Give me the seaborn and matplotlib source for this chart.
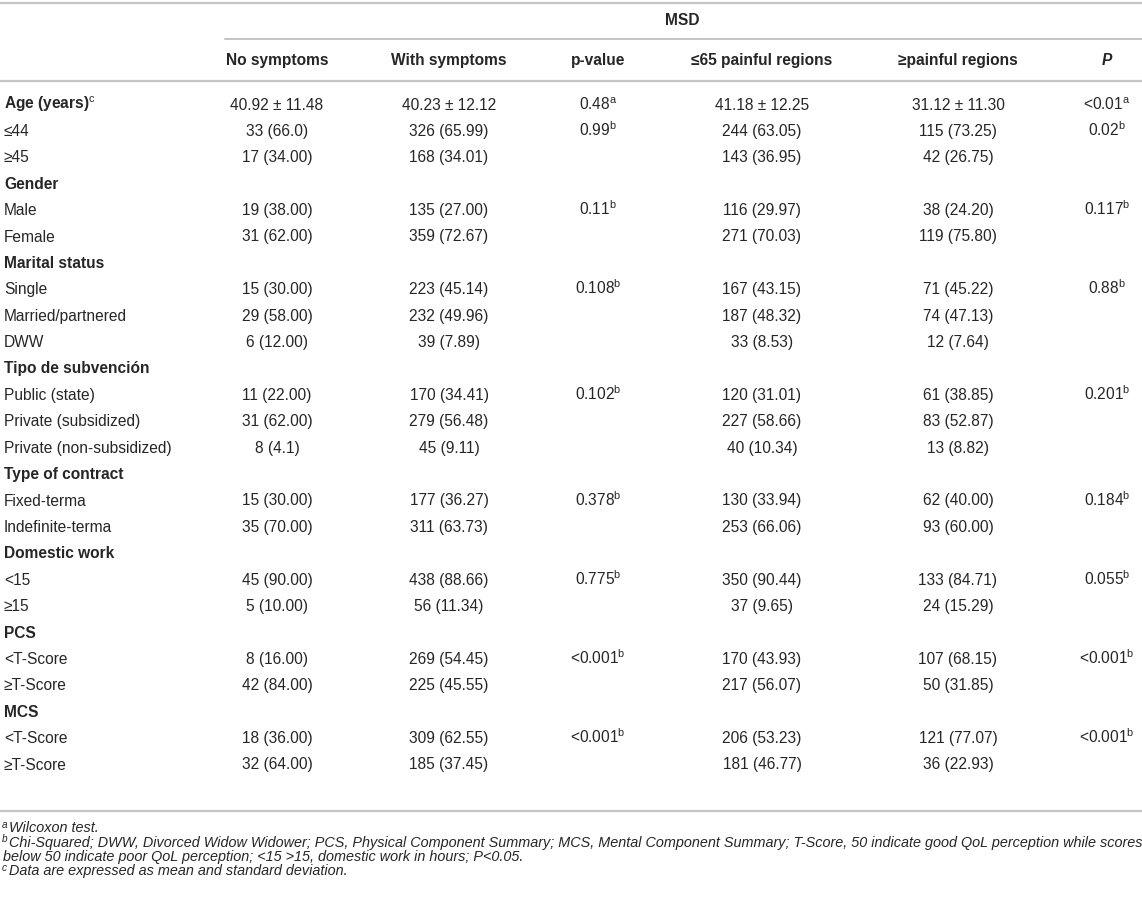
import matplotlib
matplotlib.use("Agg")
import matplotlib.pyplot as plt
import seaborn as sns

sns.set_theme(style="white")
plt.rcParams['font.family'] = ['Liberation Sans', 'DejaVu Sans']
plt.rcParams['mathtext.fontset'] = 'custom'
plt.rcParams['mathtext.rm'] = 'Liberation Sans'
plt.rcParams['mathtext.it'] = 'Liberation Sans:italic'
plt.rcParams['mathtext.bf'] = 'Liberation Sans:bold'

# table data
col_headers = ["No symptoms", "With symptoms", "p-value",
               "≤65 painful regions", "≥painful regions", "P"]

row_labels = ["Age (years)$^{\\mathrm{c}}$", "≤44", "≥45",
              "Gender", "Male", "Female",
              "Marital status", "Single", "Married/partnered", "DWW",
              "Tipo de subvención", "Public (state)", "Private (subsidized)",
              "Private (non-subsidized)",
              "Type of contract", "Fixed-terma", "Indefinite-terma",
              "Domestic work", "<15", "≥15",
              "PCS", "<T-Score", "≥T-Score",
              "MCS", "<T-Score", "≥T-Score"]

group_rows = [0, 3, 6, 10, 14, 17, 20, 23]

no_symptoms = ["40.92 ± 11.48", "33 (66.0)", "17 (34.00)",
               "", "19 (38.00)", "31 (62.00)",
               "", "15 (30.00)", "29 (58.00)", "6 (12.00)",
               "", "11 (22.00)", "31 (62.00)", "8 (4.1)",
               "", "15 (30.00)", "35 (70.00)",
               "", "45 (90.00)", "5 (10.00)",
               "", "8 (16.00)", "42 (84.00)",
               "", "18 (36.00)", "32 (64.00)"]

with_symptoms = ["40.23 ± 12.12", "326 (65.99)", "168 (34.01)",
                 "", "135 (27.00)", "359 (72.67)",
                 "", "223 (45.14)", "232 (49.96)", "39 (7.89)",
                 "", "170 (34.41)", "279 (56.48)", "45 (9.11)",
                 "", "177 (36.27)", "311 (63.73)",
                 "", "438 (88.66)", "56 (11.34)",
                 "", "269 (54.45)", "225 (45.55)",
                 "", "309 (62.55)", "185 (37.45)"]

p_symptoms = ["0.48$^{\\mathrm{a}}$", "0.99$^{\\mathrm{b}}$", "",
              "", "0.11$^{\\mathrm{b}}$", "",
              "", "0.108$^{\\mathrm{b}}$", "", "",
              "", "0.102$^{\\mathrm{b}}$", "", "",
              "", "0.378$^{\\mathrm{b}}$", "",
              "", "0.775$^{\\mathrm{b}}$", "",
              "", "<0.001$^{\\mathrm{b}}$", "",
              "", "<0.001$^{\\mathrm{b}}$", ""]

le65_regions = ["41.18 ± 12.25", "244 (63.05)", "143 (36.95)",
                "", "116 (29.97)", "271 (70.03)",
                "", "167 (43.15)", "187 (48.32)", "33 (8.53)",
                "", "120 (31.01)", "227 (58.66)", "40 (10.34)",
                "", "130 (33.94)", "253 (66.06)",
                "", "350 (90.44)", "37 (9.65)",
                "", "170 (43.93)", "217 (56.07)",
                "", "206 (53.23)", "181 (46.77)"]

ge_regions = ["31.12 ± 11.30", "115 (73.25)", "42 (26.75)",
              "", "38 (24.20)", "119 (75.80)",
              "", "71 (45.22)", "74 (47.13)", "12 (7.64)",
              "", "61 (38.85)", "83 (52.87)", "13 (8.82)",
              "", "62 (40.00)", "93 (60.00)",
              "", "133 (84.71)", "24 (15.29)",
              "", "107 (68.15)", "50 (31.85)",
              "", "121 (77.07)", "36 (22.93)"]

p_regions = ["<0.01$^{\\mathrm{a}}$", "0.02$^{\\mathrm{b}}$", "",
             "", "0.117$^{\\mathrm{b}}$", "",
             "", "0.88$^{\\mathrm{b}}$", "", "",
             "", "0.201$^{\\mathrm{b}}$", "", "",
             "", "0.184$^{\\mathrm{b}}$", "",
             "", "0.055$^{\\mathrm{b}}$", "",
             "", "<0.001$^{\\mathrm{b}}$", "",
             "", "<0.001$^{\\mathrm{b}}$", ""]

foot_marks = ["a", "b", "", "c"]
footnotes = ["Wilcoxon test.",
             "Chi-Squared; DWW, Divorced Widow Widower; PCS, Physical Component Summary; "
             "MCS, Mental Component Summary; T-Score, 50 indicate good QoL perception while scores",
             "below 50 indicate poor QoL perception; <15 >15, domestic work in hours; P<0.05.",
             "Data are expressed as mean and standard deviation."]

# layout (pixel units)
W, H = 1142, 899
col_x = [277, 449, 598, 762, 958, 1107]
row0, row_step = 104, 26.4
txt = '#262626'
rule = '#c4c4c4'
fs = 11.2

fig = plt.figure(figsize=(W / 100, H / 100), dpi=100)
ax = fig.add_axes([0, 0, 1, 1])
ax.set_xlim(0, W)
ax.set_ylim(H, 0)
ax.axis('off')

# rules
ax.plot([0, W], [3, 3], color=rule, lw=1.6)
ax.plot([225, W], [39, 39], color=rule, lw=1.4)
ax.plot([0, W], [81, 81], color=rule, lw=1.6)
ax.plot([0, W], [811, 811], color=rule, lw=1.6)

ax.text(682, 25, "MSD", ha='center', va='baseline', fontsize=fs,
        fontweight='bold', color=txt)
for x, h in zip(col_x, col_headers):
    style = 'italic' if h == "P" else 'normal'
    ax.text(x, 65, h, ha='center', va='baseline', fontsize=fs,
            fontweight='bold', fontstyle=style, color=txt)

columns = [no_symptoms, with_symptoms, p_symptoms, le65_regions, ge_regions, p_regions]
for i, lab in enumerate(row_labels):
    y = row0 + i * row_step + 5.5
    bold = i in group_rows
    ax.text(4, y, lab, ha='left', va='baseline', fontsize=fs,
            fontweight='bold' if bold else 'normal', color=txt)
    for x, col in zip(col_x, columns):
        if col[i]:
            ax.text(x, y, col[i], ha='center', va='baseline', fontsize=fs, color=txt)

foot_y = [832, 846.5, 861, 875.5]
for y, m, t in zip(foot_y, foot_marks, footnotes):
    x0 = 3
    if m:
        ax.text(2, y - 4.5, m, ha='left', va='baseline', fontsize=7.2,
                fontstyle='italic', color=txt)
        x0 = 9
    ax.text(x0, y, t, ha='left', va='baseline', fontsize=10.35,
            fontstyle='italic', color=txt)

fig.savefig("out.png", dpi=100)
